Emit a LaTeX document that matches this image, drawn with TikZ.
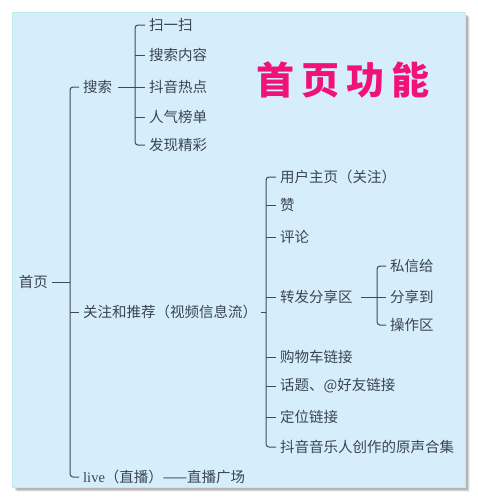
\documentclass[tikz,border=0pt]{standalone}
\usepackage{fontspec}
\setmainfont{Liberation Serif}
\newfontfamily\cjk{Noto Sans CJK SC}
\usetikzlibrary{positioning,calc}
\definecolor{panel}{RGB}{214,238,252}
\definecolor{rim}{RGB}{190,238,232}
\definecolor{txtgray}{RGB}{58,68,80}
\definecolor{linegray}{RGB}{62,74,86}
\definecolor{titlepink}{RGB}{240,18,120}

\begin{document}
\begin{tikzpicture}[x=1pt,y=-1pt,
  item/.style={anchor=west,inner xsep=4pt,inner ysep=1pt,text=txtgray,
    font=\cjk\fontsize{14.5}{16}\selectfont},
  branch/.style={draw=linegray,line width=1pt,rounded corners=3pt}]
  \useasboundingbox (0,0) rectangle (478,501);
  % panel and its shadow
  \foreach \d/\op in {5/0.06,4/0.10,3/0.16}
    \fill[black,opacity=\op] (12+\d,12+\d) rectangle (465+\d,487+\d);
  \fill[panel,draw=rim] (12,12) rectangle (465,487);

  \node[font=\cjk\bfseries\fontsize{38}{40}\selectfont,text=titlepink] (title) at (343,80)
    {首\hspace{7pt}页\hspace{7pt}功\hspace{7pt}能};

  % first level
  \node[item,anchor=east] (root) at (52,282) {首页};
  \node[item] (search) at (79,87) {搜索};
  \node[item] (feed) at (79,312) {关注和推荐（视频信息流）};
  \node[item] (live) at (79,477) {{\rmfamily live}（直播）——直播广场};
  \coordinate (spineA) at (70,0);
  \draw[branch] (search.west) -- (search.west -| spineA) -- (live.west -| spineA) -- (live.west);
  \draw[branch] (feed.west -| spineA) -- (feed.west);
  \draw[branch] (root.east) -- (root.east -| spineA);

  % search branch
  \foreach \name/\txt/\y in {sao/扫一扫/25,neirong/搜索内容/55,redian/抖音热点/87,
      renqi/人气榜单/117,faxian/发现精彩/145}
    \node[item] (\name) at (145,\y) {\txt};
  \coordinate (spineB) at (135,0);
  \draw[branch] (sao.west) -- (sao.west -| spineB) -- (faxian.west -| spineB) -- (faxian.west);
  \foreach \n in {neirong,renqi}
    \draw[branch] (\n.west -| spineB) -- (\n.west);
  \draw[branch] ([xshift=2pt]search.east) -- (redian.west);

  % feed branch
  \foreach \name/\txt/\y in {zhuye/用户主页（关注）/177,zan/赞/205,pinglun/评论/237,
      share/转发分享区/297,gouwu/购物车链接/357,huati/话题、@好友链接/386,
      dingwei/定位链接/417,yuansheng/抖音音乐人创作的原声合集/447}
    \node[item] (\name) at (276,\y) {\txt};
  \coordinate (spineC) at (266,0);
  \draw[branch] (zhuye.west) -- (zhuye.west -| spineC) -- (yuansheng.west -| spineC) -- (yuansheng.west);
  \foreach \n in {zan,pinglun,share,gouwu,huati,dingwei}
    \draw[branch] (\n.west -| spineC) -- (\n.west);
  \draw[branch] (feed.east) -- (feed.east -| spineC);

  % share branch
  \foreach \name/\txt/\y in {sixin/私信给/266,fenxiang/分享到/297,caozuo/操作区/325}
    \node[item] (\name) at (386,\y) {\txt};
  \coordinate (spineD) at (377,0);
  \draw[branch] (sixin.west) -- (sixin.west -| spineD) -- (caozuo.west -| spineD) -- (caozuo.west);
  \draw[branch] ([xshift=4pt]share.east) -- (fenxiang.west);
\end{tikzpicture}
\end{document}
